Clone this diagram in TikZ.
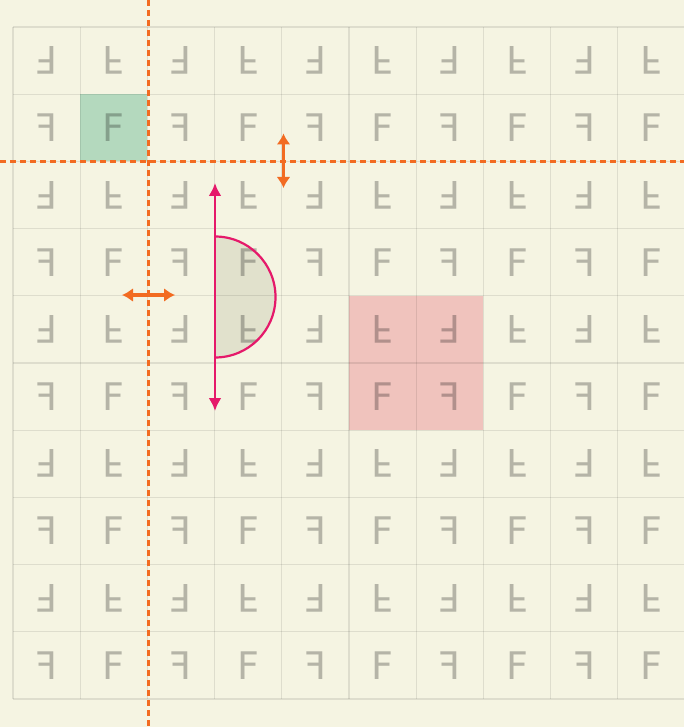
\documentclass[tikz,border=0pt]{standalone}
\usepackage{fontspec}
\newfontfamily\glyphfont{DejaVu Sans}
\usetikzlibrary{arrows.meta}
\definecolor{paper}{HTML}{F5F4E2}
\definecolor{mirror}{HTML}{F26B21}
\definecolor{axis}{HTML}{E5196A}
\definecolor{cellgreen}{HTML}{B4D9BE}
\definecolor{cellpink}{HTML}{F0C3BD}
\definecolor{halfdisc}{HTML}{E1E1CC}

\begin{document}
\begin{tikzpicture}[x=1pt,y=-1pt,>=Latex,
  glyph/.style={font=\glyphfont\fontsize{38}{38}\selectfont,text=black,text opacity=0.26,inner sep=0pt},
  gridrule/.style={draw=black,draw opacity=0.09,line width=1.3pt},
  mirrorline/.style={draw=mirror,line width=3pt,dash pattern=on 6pt off 4pt},
  shiftarrow/.style={draw=mirror,line width=3.8pt,{Latex[length=11pt,width=14pt]}-{Latex[length=11pt,width=14pt]}},
  axisarrow/.style={draw=axis,line width=2.8pt,{Latex[length=13pt,width=13pt]}-{Latex[length=13pt,width=13pt]}}]
\fill[paper] (0,0) rectangle (684,727);
\useasboundingbox (0,0) rectangle (684,727);
\fill[cellgreen] (80.2,94.2) rectangle (147.4,161.4);
\fill[cellpink] (349,295.8) rectangle (483.4,430.2);
\fill[halfdisc] (215,236.5) arc[start angle=-90,end angle=90,radius=60.5] -- cycle;
\foreach \i in {0,...,10}{
  \draw[gridrule] (13+67.2*\i,27) -- (13+67.2*\i,699);
  \draw[gridrule] (13,27+67.2*\i) -- (685,27+67.2*\i);
}
\foreach \c in {0,...,9}{
  \foreach \r in {0,...,9}{
    \pgfmathsetmacro\sx{2*mod(\c,2)-1}
    \pgfmathsetmacro\sy{2*mod(\r,2)-1}
    \node[glyph,xscale=\sx,yscale=\sy] (f-\c-\r) at (46.6+67.2*\c,60.6+67.2*\r) {F};
  }
}
\coordinate (mv-top) at (148.2,0);
\coordinate (mv-bot) at (148.2,727);
\coordinate (mh-left) at (0,161.4);
\coordinate (mh-right) at (684,161.4);
\draw[mirrorline] (mv-top) -- (mv-bot);
\draw[mirrorline] (mh-left) -- (mh-right);
\draw[draw=axis,line width=2.2pt] (215,236.5) arc[start angle=-90,end angle=90,radius=60.5];
\coordinate (axis-top) at (215,183);
\coordinate (axis-bot) at (215,411);
\draw[axisarrow] (axis-top) -- (axis-bot);
\coordinate (shift-up) at (283.5,133.5);
\coordinate (shift-down) at (283.5,188);
\draw[shiftarrow] (shift-up) -- (shift-down);
\coordinate (shift-left) at (122,295);
\coordinate (shift-right) at (175,295);
\draw[shiftarrow] (shift-left) -- (shift-right);
\end{tikzpicture}
\end{document}
